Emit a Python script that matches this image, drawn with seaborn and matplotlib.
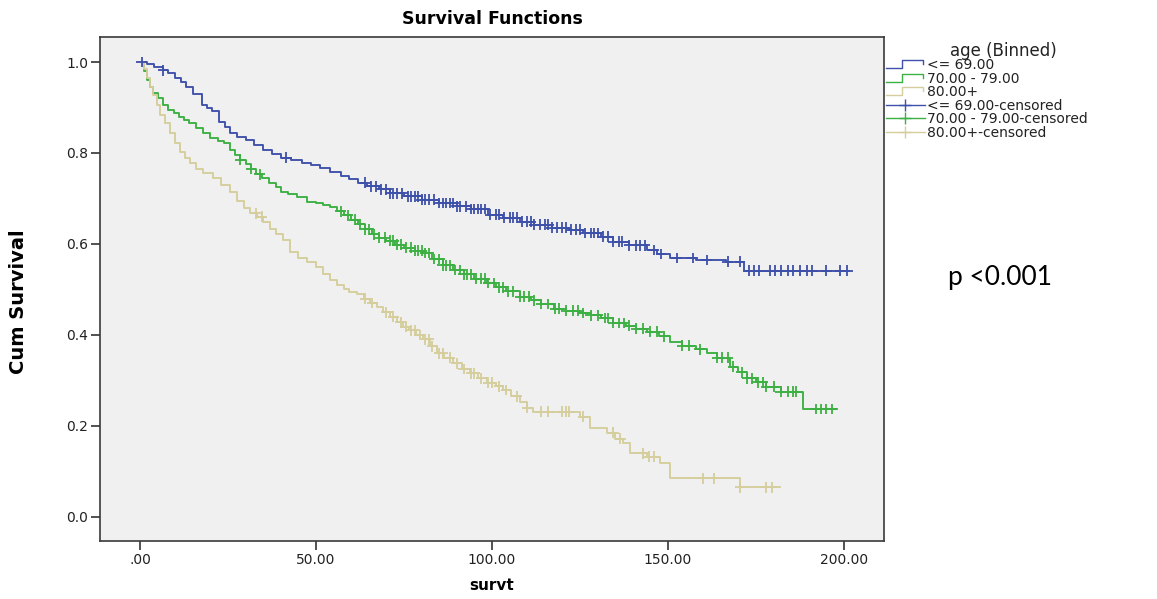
import numpy as np
import pandas as pd
import matplotlib
matplotlib.use("Agg")
import matplotlib.pyplot as plt
import seaborn as sns
from matplotlib.lines import Line2D
from matplotlib.legend_handler import HandlerBase

# ---------------- data ----------------
groups = ["<= 69.00", "70.00 - 79.00", "80.00+"]
colors = ["#3D50AA", "#3CB043", "#D5CD9B"]

# Kaplan-Meier steps: (time, cumulative survival)
blue_steps = [(0, 1.0), (2, 0.995), (4, 0.99), (6.5, 0.982), (8, 0.975), (10, 0.965), (11.5, 0.957),
              (13, 0.945), (15, 0.93), (17.5, 0.905), (19, 0.9), (20.5, 0.893), (22.5, 0.869),
              (24, 0.858), (25.5, 0.843), (27.5, 0.835), (30, 0.829), (32.5, 0.818), (35, 0.807),
              (37.5, 0.798), (40, 0.79), (43, 0.785), (46, 0.778), (48.5, 0.774), (51, 0.766),
              (54, 0.759), (57, 0.75), (59.5, 0.742), (62, 0.735), (64.5, 0.727), (68, 0.72),
              (71, 0.711), (75, 0.705), (80, 0.697), (85, 0.69), (90, 0.683), (94, 0.677),
              (99, 0.664), (103, 0.658), (108, 0.649), (112, 0.642), (117, 0.636), (122, 0.631),
              (126, 0.624), (131, 0.616), (134.5, 0.605), (139, 0.597), (144, 0.587), (147, 0.578),
              (150.5, 0.569), (158, 0.565), (166.5, 0.561), (171.5, 0.541), (201.5, 0.541)]
green_steps = [(0, 1.0), (1, 0.98), (2, 0.96), (2.8, 0.945), (3.8, 0.931), (5, 0.92), (6.5, 0.905),
               (8, 0.895), (9.5, 0.888), (11, 0.88), (12.5, 0.872), (14, 0.865), (16, 0.855),
               (18, 0.845), (20, 0.832), (22, 0.826), (23.7, 0.821), (25.6, 0.806), (27, 0.795),
               (28.5, 0.785), (30, 0.775), (31.5, 0.765), (33, 0.753), (34.5, 0.744), (36.5, 0.735),
               (38.5, 0.725), (40, 0.715), (42, 0.71), (44.5, 0.704), (47.5, 0.693), (50, 0.689),
               (52, 0.685), (54, 0.682), (56, 0.672), (58, 0.663), (60, 0.653), (62, 0.643),
               (64, 0.632), (66, 0.621), (68, 0.614), (70, 0.607), (72.5, 0.598), (75, 0.592),
               (78, 0.585), (80.5, 0.58), (83, 0.567), (86, 0.553), (89, 0.543), (92, 0.533),
               (95, 0.524), (98.5, 0.514), (101, 0.505), (104, 0.496), (108, 0.484), (111, 0.476),
               (114, 0.468), (117.5, 0.458), (121, 0.453), (125, 0.448), (128, 0.443), (131, 0.437),
               (134.5, 0.426), (138, 0.42), (141, 0.414), (144, 0.407), (147.5, 0.397),
               (150.5, 0.385), (154, 0.376), (158, 0.368), (161, 0.36), (164, 0.35), (167.5, 0.33),
               (170, 0.318), (172.5, 0.305), (175, 0.296), (178, 0.286), (182, 0.275),
               (188.4, 0.237), (198, 0.237)]
tan_steps = [(0, 1.0), (1, 0.985), (1.9, 0.964), (2.8, 0.945), (3.8, 0.927), (4.8, 0.905),
             (5.7, 0.884), (7, 0.865), (8.5, 0.843), (10, 0.823), (11.4, 0.803), (12.8, 0.79),
             (14.2, 0.777), (16, 0.765), (18, 0.755), (20.8, 0.744), (23, 0.73), (25.6, 0.715),
             (27.5, 0.695), (29.4, 0.678), (31.2, 0.667), (33.1, 0.66), (35, 0.648), (36.9, 0.634),
             (38.5, 0.622), (40.7, 0.609), (42.6, 0.583), (45, 0.57), (47.5, 0.56), (50, 0.55),
             (52, 0.535), (54, 0.521), (56, 0.51), (58, 0.5), (59.5, 0.495), (61.6, 0.49),
             (63.5, 0.48), (65.3, 0.47), (67.2, 0.462), (69, 0.45), (71, 0.44), (73, 0.428),
             (74.8, 0.418), (76.5, 0.41), (78.5, 0.4), (80.5, 0.39), (82.5, 0.375), (84.3, 0.36),
             (86.5, 0.35), (89, 0.338), (91.5, 0.325), (93.75, 0.316), (96, 0.305), (98.5, 0.295),
             (101, 0.287), (103.2, 0.279), (105.5, 0.265), (108, 0.252), (110, 0.24),
             (111.7, 0.231), (125, 0.22), (127.8, 0.195), (132.6, 0.185), (135, 0.172),
             (137.3, 0.162), (139.2, 0.14), (144, 0.132), (147.7, 0.118), (150.6, 0.085),
             (170.5, 0.065), (181.8, 0.065)]

# censoring times per group
blue_censored = [0.5, 6.5, 41.5, 64, 65.5, 67, 68.5, 70, 71, 72, 73, 74.5, 76, 77, 78, 79, 80, 81,
                 82, 83.5, 85, 86, 87, 88, 89, 90, 91, 92.5, 94, 95, 96, 97, 98, 99.5, 101, 102,
                 103.5, 105, 106, 107, 108.5, 110, 111, 112, 113.5, 115, 116, 117, 118.5, 120, 121,
                 122.5, 124, 125, 126.5, 128, 129, 130, 131.5, 133, 134.5, 136, 137, 139, 141, 142,
                 143.5, 146, 148, 152.5, 157, 161, 167, 170.5, 173, 174.5, 176, 179, 180.5, 182,
                 184, 185.5, 187.5, 189.5, 191, 195, 199, 201]
green_censored = [28.5, 31.5, 34, 57, 59, 61, 62.5, 64, 65, 66.5, 68, 69.5, 71, 72, 73, 74, 75.5,
                  77, 78, 79, 80, 81, 82, 83.5, 85, 86, 87, 88, 89.5, 91, 92, 93, 94, 95.5, 97, 98,
                  99, 100.5, 102, 103, 104.5, 106, 108, 109, 110.5, 112, 114, 116, 118, 119, 121,
                  123, 124.5, 126, 128, 130, 132, 133, 134.5, 136, 137.5, 139, 141, 143, 145, 147,
                  149, 154, 156, 159, 164, 165.5, 167, 168.5, 171, 172.5, 174, 175.5, 177, 178,
                  180, 182, 184, 185.5, 186.5, 192, 193.5, 195, 196.5]
tan_censored = [33, 34.5, 64, 66, 70, 72, 74, 75.5, 77, 78, 79.5, 81, 82, 83, 85, 86, 88, 90, 92,
                94, 95, 97, 99, 100, 102, 104, 107, 110, 114, 116, 120, 121, 122, 126, 134.5,
                136.5, 143, 144.5, 146, 160, 163, 170.5, 178, 179.5]

x_ticks = [0, 50, 100, 150, 200]
x_tick_labels = [".00", "50.00", "100.00", "150.00", "200.00"]
y_ticks = [0.0, 0.2, 0.4, 0.6, 0.8, 1.0]
y_tick_labels = ["0.0", "0.2", "0.4", "0.6", "0.8", "1.0"]

# ---------------- build tables ----------------
steps_all = [blue_steps, green_steps, tan_steps]
cens_all = [blue_censored, green_censored, tan_censored]
line_rows, cens_rows = [], []
for g, st, cz in zip(groups, steps_all, cens_all):
    tt = np.array([p[0] for p in st])
    ss = np.array([p[1] for p in st])
    for a, b in zip(tt, ss):
        line_rows.append((g, a, b))
    for c in cz:
        idx = np.searchsorted(tt, c, side="right") - 1
        cens_rows.append((g, c, ss[max(idx, 0)]))
df_line = pd.DataFrame(line_rows, columns=["group", "t", "S"])
df_cens = pd.DataFrame(cens_rows, columns=["group", "t", "S"])
palette = dict(zip(groups, colors))

# ---------------- figure ----------------
W, H = 1157, 599
fig = plt.figure(figsize=(W / 100, H / 100), dpi=100)
fig.patch.set_facecolor("white")
ax = fig.add_axes([100 / W, 1 - 541 / H, (884 - 100) / W, (541 - 37) / H])
ax.set_facecolor("#F0F0F0")

sns.lineplot(data=df_line, x="t", y="S", hue="group", palette=palette, estimator=None,
             drawstyle="steps-post", linewidth=1.35, legend=False, ax=ax)
sns.scatterplot(data=df_cens, x="t", y="S", hue="group", palette=palette, marker="+",
                s=60, linewidth=1.3, legend=False, ax=ax, zorder=3)

ax.set_xlim(-11.4, 211.4)
ax.set_ylim(-0.053, 1.055)
ax.set_xticks(x_ticks)
ax.set_xticklabels(x_tick_labels)
ax.set_yticks(y_ticks)
ax.set_yticklabels(y_tick_labels)
ax.tick_params(axis="both", direction="out", length=6.5, width=1.2, color="#333333",
               labelsize=10, pad=2, labelcolor="#222222")
for sp in ax.spines.values():
    sp.set_color("#3a3a3a")
    sp.set_linewidth(1.2)

ax.set_xlabel("survt", fontsize=11, fontweight="bold", labelpad=8)
ax.set_ylabel("Cum Survival", fontsize=14, fontweight="bold",
              family=["Liberation Sans Narrow", "DejaVu Sans"])
ax.yaxis.set_label_coords(-0.092, 0.474)
ax.set_title("Survival Functions", fontsize=12.5, fontweight="bold", pad=9)


# ---------------- legend ----------------
class StepHandler(HandlerBase):
    def create_artists(self, legend, orig_handle, xdescent, ydescent, width, height,
                       fontsize, trans):
        xs = np.array([0.0, 0.42, 0.42, 0.95, 0.95]) * width - xdescent
        ys = np.array([0.1, 0.1, 0.9, 0.9, 0.5]) * height - ydescent
        ln = Line2D(xs, ys, color=orig_handle.get_color(), lw=1.0)
        ln.set_transform(trans)
        return [ln]


handles, labels, hmap = [], [], {}
for g, c in zip(groups, colors):
    h = Line2D([], [], color=c, lw=1.0)
    handles.append(h)
    labels.append(g)
    hmap[h] = StepHandler()
for g, c in zip(groups, colors):
    h = Line2D([], [], color=c, lw=1.0, marker="+", markersize=9, markeredgewidth=1.0)
    handles.append(h)
    labels.append(g + "-censored")

fig.text(950 / W, 1 - 51 / H, "age (Binned)", fontsize=12, va="center", ha="left",
         color="#222222")
leg = fig.legend(handles, labels, handler_map=hmap, loc="upper left",
                 bbox_to_anchor=(886 / W, 1 - 58 / H), frameon=False, fontsize=10,
                 handlelength=2.8, handletextpad=0.15, labelspacing=-0.035, borderpad=0,
                 borderaxespad=0, numpoints=1)
for t in leg.get_texts():
    t.set_color("#222222")

fig.text(948 / W, 1 - 278 / H, "p <0.001", fontsize=19, va="center", ha="left",
         family=["Lato", "DejaVu Sans"], color="black")

fig.savefig("out.png", dpi=100)
